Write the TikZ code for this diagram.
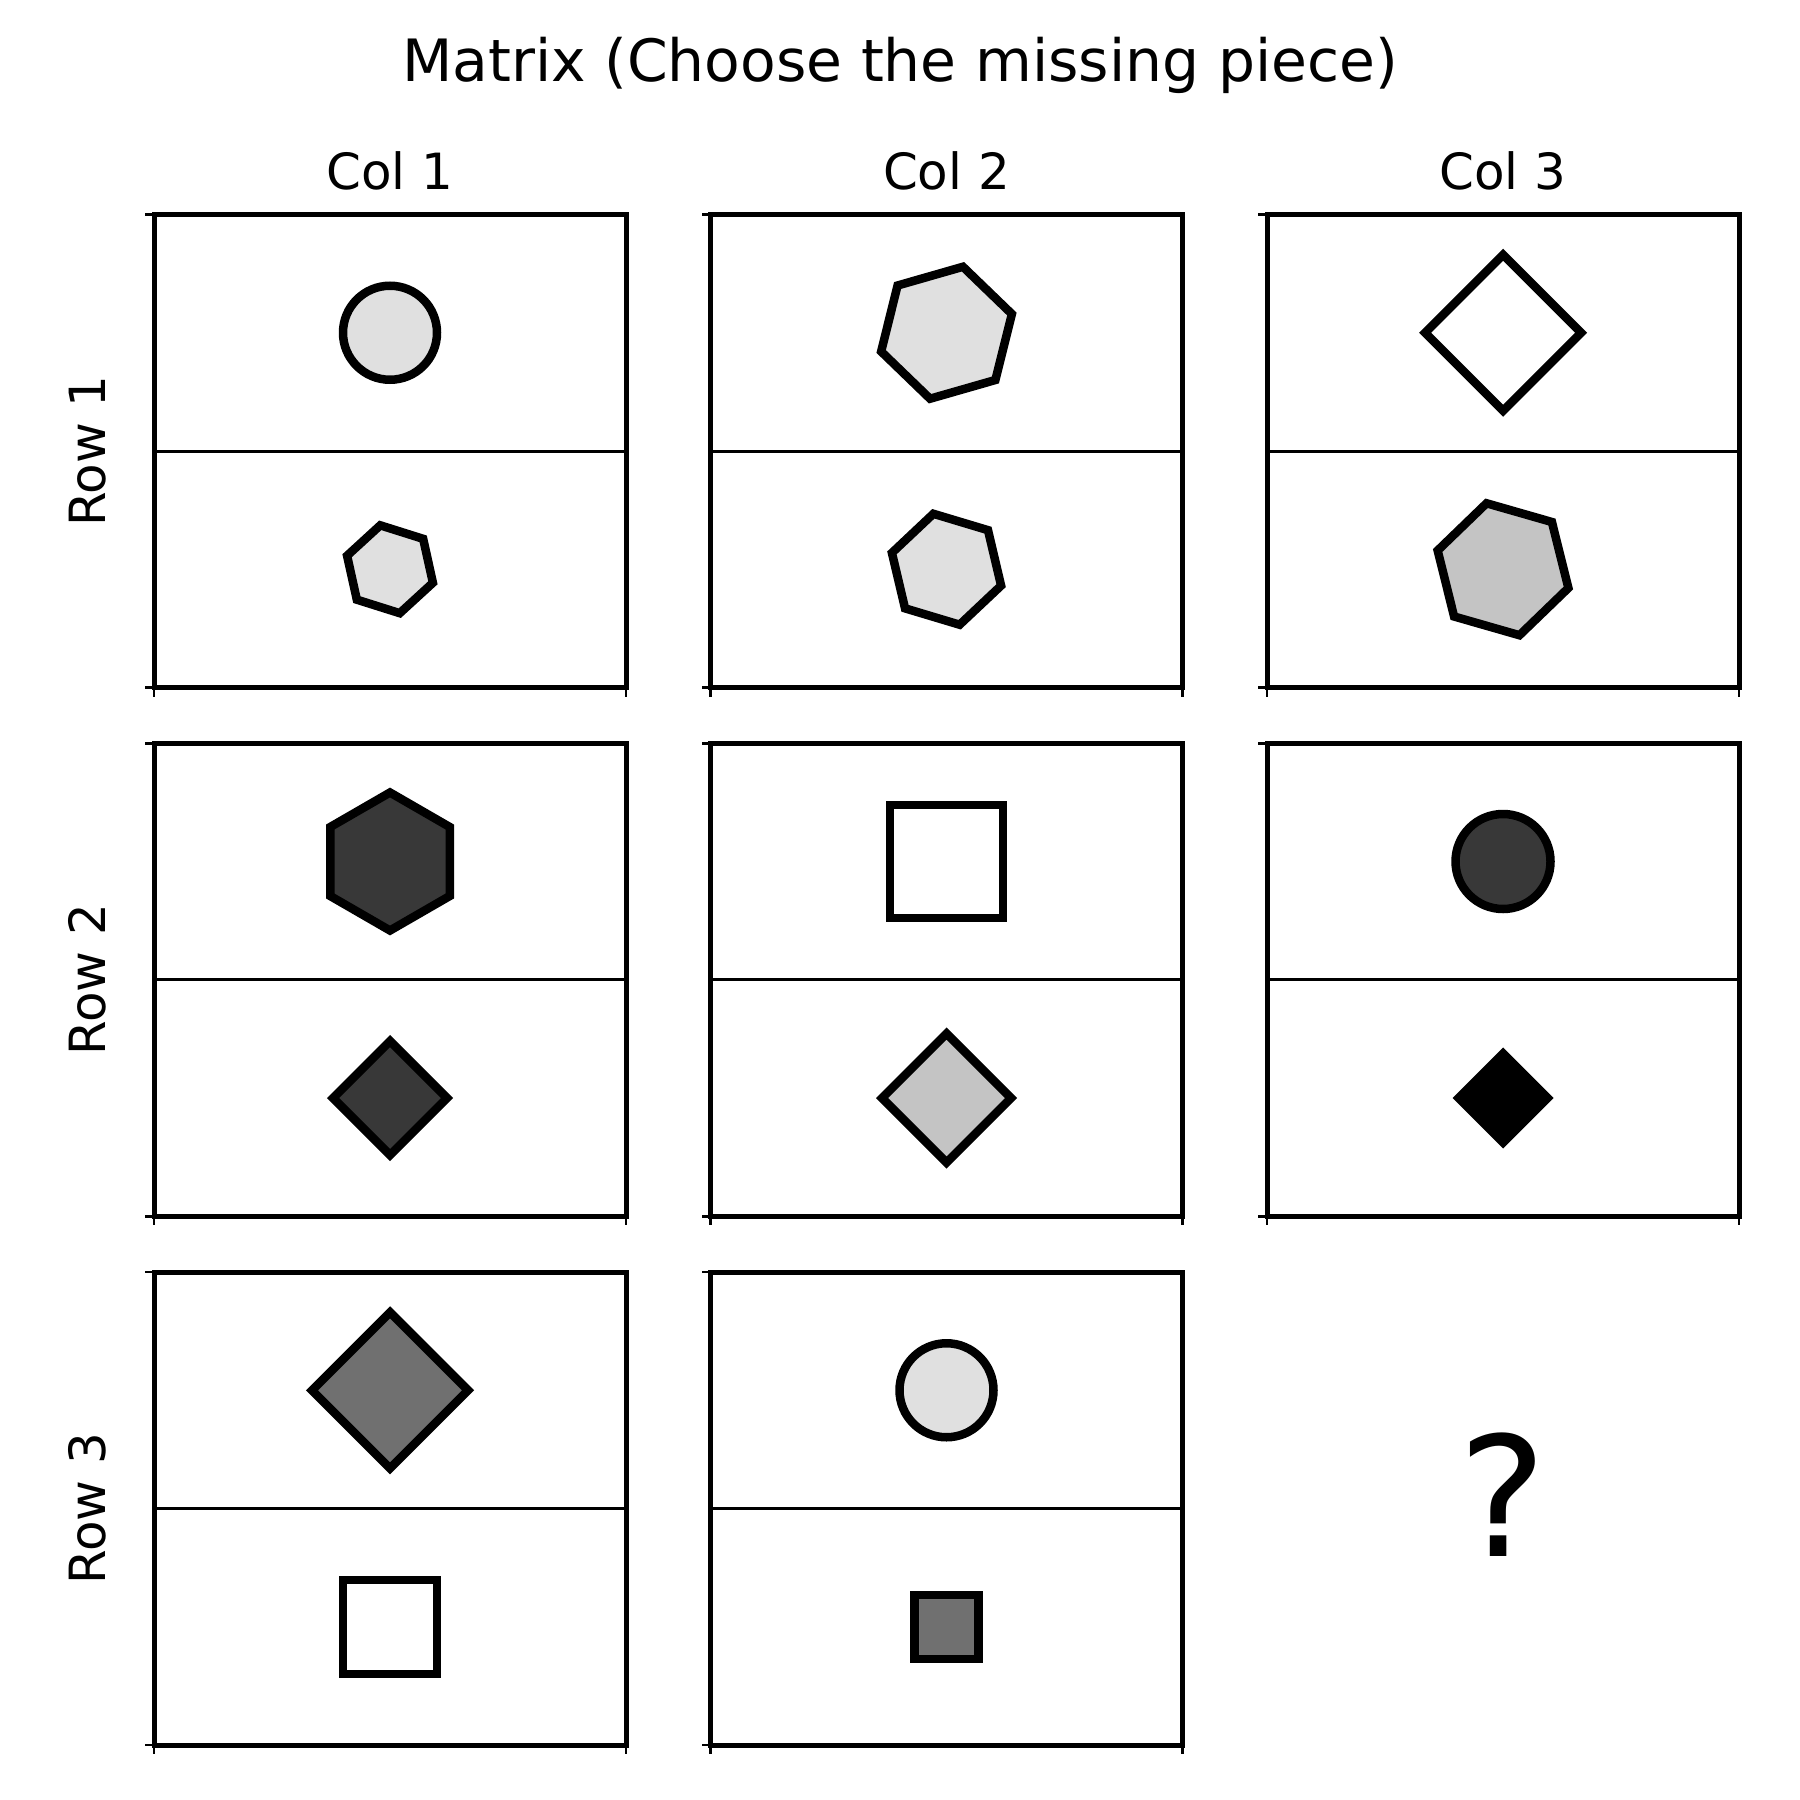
\documentclass[tikz,border=0pt]{standalone}
\usepackage{fontspec}
\setmainfont{DejaVu Sans}
\usepackage{tikz}
\usetikzlibrary{shapes.geometric, positioning, calc}
\definecolor{GreyLight}{RGB}{224,224,224}
\definecolor{GreyMid}{RGB}{196,196,196}
\definecolor{GreyDark}{RGB}{112,112,112}
\definecolor{GreyDeep}{RGB}{56,56,56}

\begin{document}
\begin{tikzpicture}[x=0.1mm, y=-0.1mm,
    panel/.style={draw, line width=0.5mm, minimum width=47.2mm,
      minimum height=47.3mm, inner sep=0pt, outer sep=0pt},
    midline/.style={line width=0.3mm},
    tickmark/.style={line width=0.25mm},
    shp/.style={draw, line width=0.85mm, inner sep=0pt, outer sep=0pt},
    circ/.style={shp, circle, minimum size=#1*0.1mm},
    hexa/.style 2 args={shp, regular polygon, regular polygon sides=6,
      minimum size=#1*0.2mm, shape border rotate=#2},
    dia/.style={shp, diamond, minimum width=#1*0.1mm, minimum height=#1*0.1mm},
    sq/.style={shp, rectangle, minimum size=#1*0.1mm},
    lbl/.style={font=\fontsize{14.2}{17}\selectfont, anchor=base}]
  \useasboundingbox (0,0) rectangle (1800,1800);

  \node[anchor=base, font=\fontsize{16.6}{20}\selectfont] (title) at (900,82)
    {Matrix (Choose the missing piece)};

  % frames of the eight given cells
  \foreach \r/\c in {1/1,1/2,1/3,2/1,2/2,2/3,3/1,3/2}
  {
    \node[panel] (p\r\c) at ({390+556.5*(\c-1)},{451+528.75*(\r-1)}) {};
    \draw[midline] (p\r\c.west) -- (p\r\c.east);
    \draw[tickmark] (p\r\c.north west) -- ++(-9,0);
    \draw[tickmark] (p\r\c.south west) -- ++(-9,0);
    \draw[tickmark] (p\r\c.south west) -- ++(0,9);
    \draw[tickmark] (p\r\c.south east) -- ++(0,9);
  }
  \foreach \i in {1,2,3}
  {
    \node[lbl] (col\i) at ({390+556.5*(\i-1)},190) {Col \i};
    \node[lbl, rotate=90] (row\i) at (105,{451+528.75*(\i-1)}) {Row \i};
  }

  % row 1
  \node[circ=94, fill=GreyLight] (s11t) at ($(p11)+(0,-118.25)$) {};
  \node[hexa={45}{42.5}, fill=GreyLight] (s11b) at ($(p11)+(0,118.25)$) {};
  \node[hexa={68}{16}, fill=GreyLight] (s12t) at ($(p12)+(0,-118.25)$) {};
  \node[hexa={57}{43.3}, fill=GreyLight] (s12b) at ($(p12)+(0,118.25)$) {};
  \node[dia=156, fill=white] (s13t) at ($(p13)+(0,-118.25)$) {};
  \node[hexa={68}{44}, fill=GreyMid] (s13b) at ($(p13)+(0,118.25)$) {};
  % row 2
  \node[hexa={69}{30}, fill=GreyDeep] (s21t) at ($(p21)+(0,-118.25)$) {};
  \node[dia=114, fill=GreyDeep] (s21b) at ($(p21)+(0,118.25)$) {};
  \node[sq=113, fill=white] (s22t) at ($(p22)+(0,-118.25)$) {};
  \node[dia=129, fill=GreyMid] (s22b) at ($(p22)+(0,118.25)$) {};
  \node[circ=95, fill=GreyDeep] (s23t) at ($(p23)+(0,-118.25)$) {};
  \node[dia=89, fill=black] (s23b) at ($(p23)+(0,118.25)$) {};
  % row 3
  \node[dia=156, fill=GreyDark] (s31t) at ($(p31)+(0,-118.25)$) {};
  \node[sq=94, fill=white] (s31b) at ($(p31)+(0,118.25)$) {};
  \node[circ=94, fill=GreyLight] (s32t) at ($(p32)+(0,-118.25)$) {};
  \node[sq=64, fill=GreyDark] (s32b) at ($(p32)+(0,118.25)$) {};

  \node[anchor=base, font=\fontsize{47.4}{55}\selectfont] (missing) at (1503,1556) {?};
\end{tikzpicture}
\end{document}
